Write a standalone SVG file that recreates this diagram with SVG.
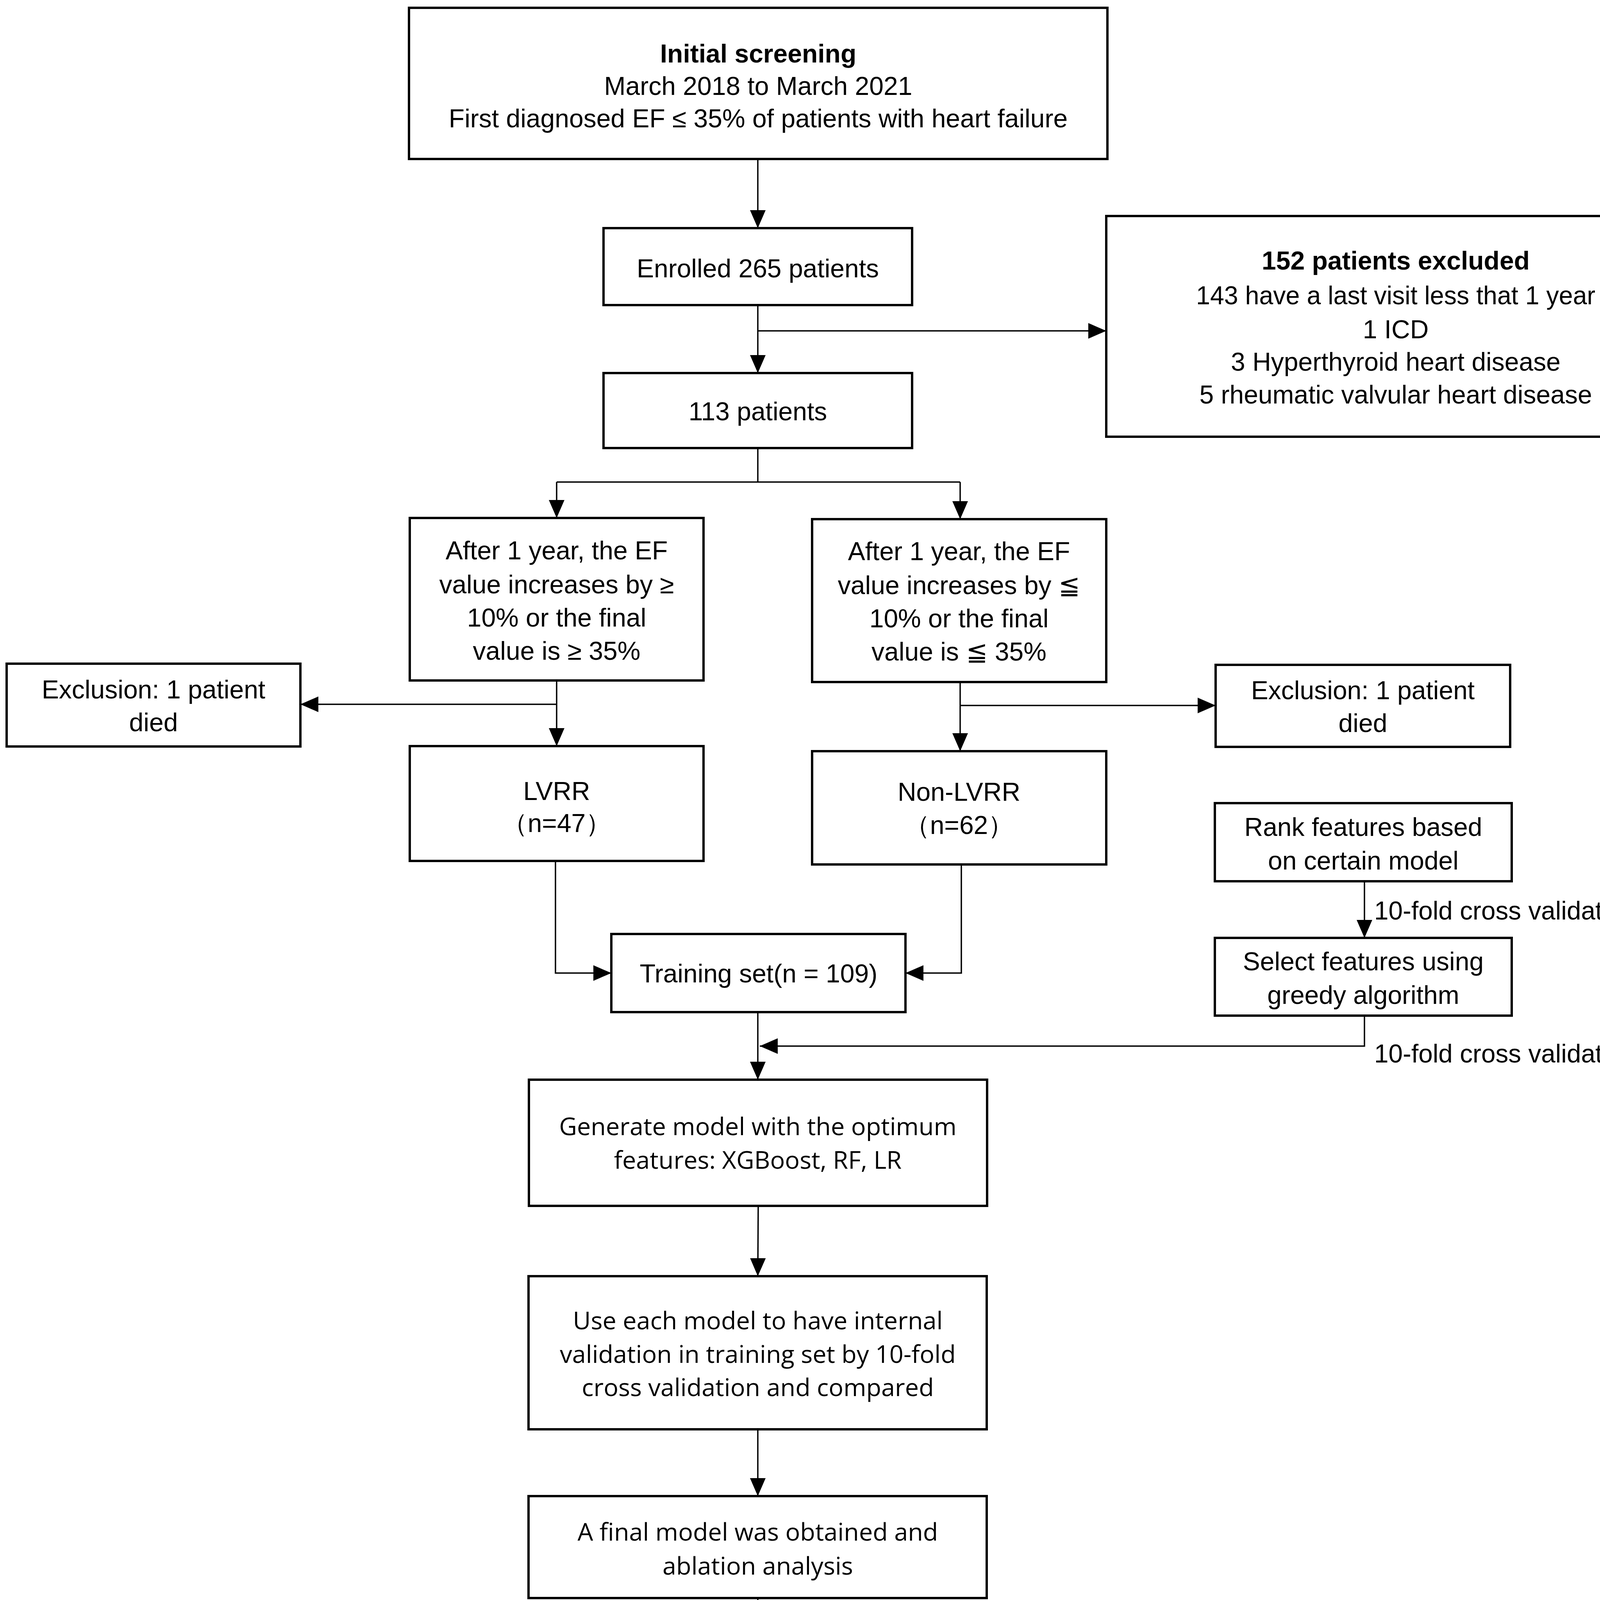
<svg xmlns="http://www.w3.org/2000/svg" width="4328" height="4949" viewBox="0 0 4328 4949">
<defs>
<style>
.box{fill:#fff;stroke:#000;stroke-width:6}
.c{fill:none;stroke:#000;stroke-width:3.5}
.t{font-family:"Liberation Sans","DejaVu Sans",sans-serif;font-size:66px;fill:#000;text-anchor:middle}
.b{font-weight:bold}
.o{font-family:"Open Sans","DejaVu Sans",sans-serif;font-size:63px;fill:#000;text-anchor:middle}
.l{text-anchor:start}
</style>
<marker id="ah" markerUnits="userSpaceOnUse" markerWidth="46" markerHeight="40" refX="46" refY="20" orient="auto">
<path d="M0,0 L46,20 L0,40 z" fill="#000"/>
</marker>
</defs>
<rect width="4328" height="4949" fill="#fff"/>
<g id="connectors">
<line class="c" x1="1940" y1="407" x2="1940" y2="584" marker-end="url(#ah)"/>
<line class="c" x1="1940" y1="781" x2="1940" y2="955" marker-end="url(#ah)"/>
<line class="c" x1="1940" y1="847" x2="2832" y2="847" stroke-width="5" marker-end="url(#ah)"/>
<polyline class="c" points="1940,1147 1940,1234"/>
<polyline class="c" points="1425,1234 2458,1234"/>
<line class="c" x1="1425" y1="1234" x2="1425" y2="1326" marker-end="url(#ah)"/>
<line class="c" x1="2458" y1="1234" x2="2458" y2="1329" marker-end="url(#ah)"/>
<line class="c" x1="1425" y1="1742" x2="1425" y2="1910" marker-end="url(#ah)"/>
<line class="c" x1="1425" y1="1803" x2="769" y2="1803" marker-end="url(#ah)"/>
<line class="c" x1="2458" y1="1746" x2="2458" y2="1923" marker-end="url(#ah)"/>
<line class="c" x1="2458" y1="1806" x2="3112" y2="1806" marker-end="url(#ah)"/>
<polyline class="c" points="1422,2204 1422,2491 1565,2491" marker-end="url(#ah)"/>
<polyline class="c" points="2461,2213 2461,2491 2318,2491" marker-end="url(#ah)"/>
<line class="c" x1="1940" y1="2591" x2="1940" y2="2764" marker-end="url(#ah)"/>
<line class="c" x1="3493" y1="2256" x2="3493" y2="2401" marker-end="url(#ah)"/>
<polyline class="c" points="3493,2600 3493,2678 1945,2678" marker-end="url(#ah)"/>
<line class="c" x1="1941" y1="3087" x2="1940" y2="3267" marker-end="url(#ah)"/>
<line class="c" x1="1940" y1="3659" x2="1940" y2="3830" marker-end="url(#ah)"/>
<line class="c" x1="1940" y1="4091" x2="1940" y2="4260" marker-end="url(#ah)"/>
<text class="t l" x="3518" y="2354" textLength="672" lengthAdjust="spacingAndGlyphs">10-fold cross validation</text>
<text class="t l" x="3518" y="2720" textLength="672" lengthAdjust="spacingAndGlyphs">10-fold cross validation</text>
</g>
<g id="initial">
<rect class="box" x="1047" y="20" width="1788" height="387"/>
<text class="t b" x="1941" y="160">Initial screening</text>
<text class="t" x="1941" y="243">March 2018 to March 2021</text>
<text class="t" x="1941" y="326">First diagnosed EF ≤ 35% of patients with heart failure</text>
</g>
<g id="enrolled">
<rect class="box" x="1545" y="584" width="790" height="197"/>
<text class="t" x="1940" y="710">Enrolled 265 patients</text>
</g>
<g id="p113">
<rect class="box" x="1545" y="955" width="790" height="192"/>
<text class="t" x="1940" y="1076">113 patients</text>
</g>
<g id="excluded">
<rect class="box" x="2832" y="553" width="1483" height="565"/>
<text class="t b" x="3573" y="690">152 patients excluded</text>
<text class="t" x="3573" y="779" textLength="1022" lengthAdjust="spacingAndGlyphs">143 have a last visit less that 1 year</text>
<text class="t" x="3573" y="866">1 ICD</text>
<text class="t" x="3573" y="949">3 Hyperthyroid heart disease</text>
<text class="t" x="3573" y="1033">5 rheumatic valvular heart disease</text>
</g>
<g id="ef-up">
<rect class="box" x="1049" y="1326" width="752" height="416"/>
<text class="t" x="1425" y="1432">After 1 year, the EF</text>
<text class="t" x="1425" y="1519">value increases by ≥</text>
<text class="t" x="1425" y="1604">10% or the final</text>
<text class="t" x="1425" y="1689">value is ≥ 35%</text>
</g>
<g id="ef-down">
<rect class="box" x="2079" y="1329" width="753" height="417"/>
<text class="t" x="2455" y="1434">After 1 year, the EF</text>
<text class="t" x="2455" y="1521">value increases by ≦</text>
<text class="t" x="2455" y="1606">10% or the final</text>
<text class="t" x="2455" y="1691">value is ≦ 35%</text>
</g>
<g id="excl-left">
<rect class="box" x="17" y="1699" width="752" height="212"/>
<text class="t" x="393" y="1788">Exclusion: 1 patient</text>
<text class="t" x="393" y="1872">died</text>
</g>
<g id="excl-right">
<rect class="box" x="3112" y="1702" width="754" height="210"/>
<text class="t" x="3489" y="1790">Exclusion: 1 patient</text>
<text class="t" x="3489" y="1874">died</text>
</g>
<g id="lvrr">
<rect class="box" x="1049" y="1910" width="752" height="294"/>
<text class="t" x="1425" y="2048">LVRR</text>
<text class="t" x="1425" y="2130">（n=47）</text>
</g>
<g id="nonlvrr">
<rect class="box" x="2079" y="1923" width="753" height="290"/>
<text class="t" x="2455" y="2050">Non-LVRR</text>
<text class="t" x="2455" y="2135">（n=62）</text>
</g>
<g id="rank">
<rect class="box" x="3110" y="2056" width="760" height="200"/>
<text class="t" x="3490" y="2140">Rank features based</text>
<text class="t" x="3490" y="2226">on certain model</text>
</g>
<g id="select">
<rect class="box" x="3110" y="2401" width="760" height="199"/>
<text class="t" x="3490" y="2484">Select features using</text>
<text class="t" x="3490" y="2570">greedy algorithm</text>
</g>
<g id="training">
<rect class="box" x="1565" y="2391" width="753" height="200"/>
<text class="t" x="1942" y="2515">Training set(n = 109)</text>
</g>
<g id="generate">
<rect class="box" x="1354" y="2764" width="1173" height="323"/>
<text class="o" x="1940" y="2906">Generate model with the optimum</text>
<text class="o" x="1940" y="2992">features: XGBoost, RF, LR</text>
</g>
<g id="internal">
<rect class="box" x="1353" y="3267" width="1173" height="392"/>
<text class="o" x="1940" y="3403">Use each model to have internal</text>
<text class="o" x="1940" y="3489">validation in training set by 10-fold</text>
<text class="o" x="1940" y="3574">cross validation and compared</text>
</g>
<g id="final">
<rect class="box" x="1353" y="3830" width="1173" height="261"/>
<text class="o" x="1940" y="3944">A final model was obtained and</text>
<text class="o" x="1940" y="4031">ablation analysis</text>
</g>
<g id="findings">
<rect class="box" x="290" y="4260" width="3295" height="672" rx="110" ry="110"/>
<text class="t l b" x="390" y="4412" textLength="451" lengthAdjust="spacingAndGlyphs">Major findings:</text>
<text class="t l" x="390" y="4495" textLength="2932" lengthAdjust="spacingAndGlyphs">1.Combination of TIMES,CK,CK-MB,LAD,RVD,BPM classification was able to divide the LVRR and non-</text>
<text class="t l" x="390" y="4580" textLength="501" lengthAdjust="spacingAndGlyphs">LVRR groups well</text>
<text class="t l" x="390" y="4665" textLength="1812" lengthAdjust="spacingAndGlyphs">2.Ensemble tree model perform better than logistic regression</text>
<text class="t l" x="390" y="4752" textLength="3058" lengthAdjust="spacingAndGlyphs">3.Ablation analysis showed that TIMES,BPM of baseline are most influential features on the performance</text>
<text class="t l" x="390" y="4835" textLength="385" lengthAdjust="spacingAndGlyphs">of this model</text>
</g>
</svg>
